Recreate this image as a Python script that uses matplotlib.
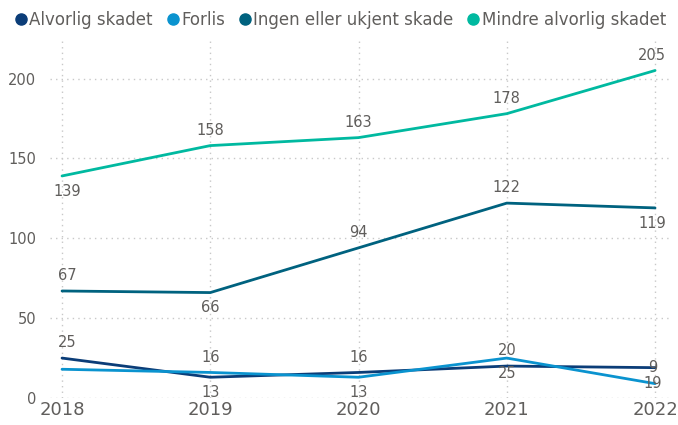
import matplotlib.pyplot as plt
from matplotlib.lines import Line2D

years = [2018, 2019, 2020, 2021, 2022]
alvorlig = [25, 13, 16, 20, 19]
forlis = [18, 16, 13, 25, 9]
ingen = [67, 66, 94, 122, 119]
mindre = [139, 158, 163, 178, 205]

names = ["Alvorlig skadet", "Forlis", "Ingen eller ukjent skade", "Mindre alvorlig skadet"]
colors = ["#0B3D78", "#0A93CF", "#00627F", "#00B9A0"]
series = [alvorlig, forlis, ingen, mindre]

# label text shown at each point (None = hidden) and offset up/down in px
label_text = [
    ["25", "13", "16", "20", "9"],
    [None, "16", "13", "25", "19"],
    ["67", "66", "94", "122", "119"],
    ["139", "158", "163", "178", "205"],
]
label_dir = [
    [1, -1, 1, 1, 0],
    [0, 1, -1, -1, 0],
    [1, -1, 1, 1, -1],
    [-1, 1, 1, 1, 1],
]

grey = "#605E5C"
plt.rcParams["font.family"] = ["DejaVu Sans"]

fig = plt.figure(figsize=(6.78, 4.25), dpi=100)
ax = fig.add_axes([0.074, 0.0635, 0.914, 0.842])

for vals, col in zip(series, colors):
    ax.plot(years, vals, color=col, lw=2.0, solid_capstyle="round", zorder=3)

for vals, texts, dirs in zip(series, label_text, label_dir):
    for i, (x, v, t, d) in enumerate(zip(years, vals, texts, dirs)):
        if t is None:
            continue
        dx = 4 if i == 0 else (-2 if i == len(years) - 1 else 0)
        ax.annotate(t, (x, v), xytext=(dx, 11 * d), textcoords="offset points",
                    ha="center", va="center", fontsize=10.5, color=grey, zorder=4)

ax.set_xlim(2017.92, 2022.1)
ax.set_ylim(0, 224)
ax.set_xticks(years)
ax.set_yticks([0, 50, 100, 150, 200])
ax.tick_params(axis="x", labelsize=13, colors=grey, length=0, pad=2)
ax.tick_params(axis="y", labelsize=10.5, colors=grey, length=0, pad=10)
ax.grid(True, color="#C8C8C8", linestyle=(0, (1, 3)), lw=1)
ax.set_axisbelow(True)
for s in ax.spines.values():
    s.set_visible(False)

handles = [Line2D([], [], marker="o", ls="", color=c, markersize=8) for c in colors]
leg = fig.legend(handles, names, loc="upper left", bbox_to_anchor=(0.0, 1.0),
                 ncol=4, frameon=False, fontsize=12, handletextpad=-0.1,
                 columnspacing=0.6, handlelength=1.2, borderaxespad=0.25)
for t in leg.get_texts():
    t.set_color(grey)

fig.savefig("out.png", dpi=100)
